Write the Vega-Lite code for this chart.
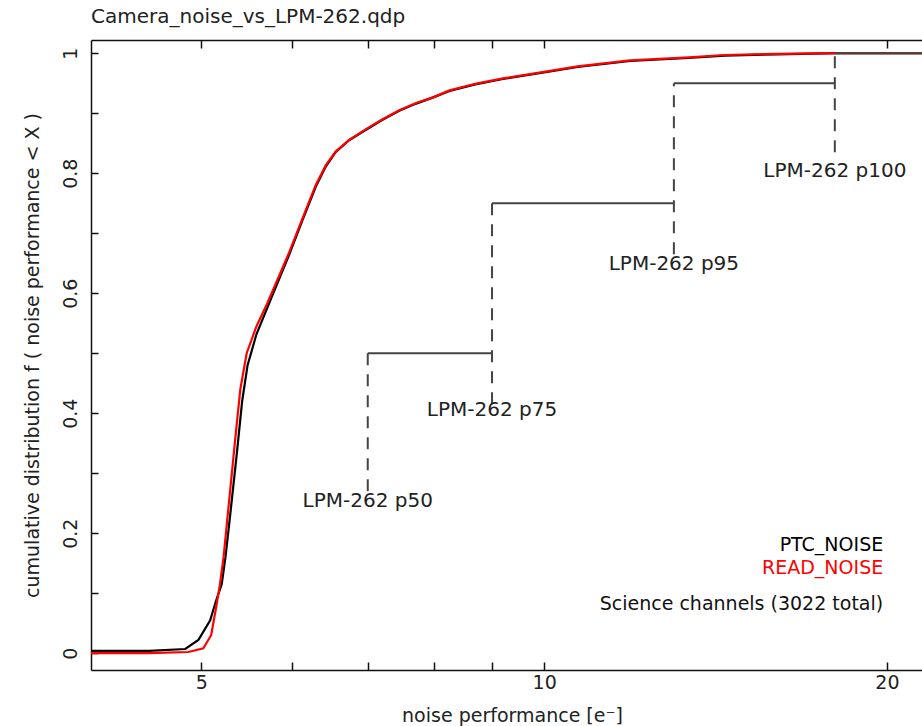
{
  "$schema": "https://vega.github.io/schema/vega-lite/v6.json",
  "width": 831,
  "height": 630,
  "autosize": {"type": "none"},
  "padding": {"left": 91, "top": 40, "right": 0, "bottom": 56},
  "background": "white",
  "config": {
    "view": {"stroke": null},
    "font": "DejaVu Sans",
    "axis": {"grid": false, "domainColor": "#111", "domainWidth": 1.5, "tickColor": "#111", "tickWidth": 1.5, "labelColor": "#222", "titleColor": "#222", "labelFont": "DejaVu Sans", "titleFont": "DejaVu Sans", "titleFontWeight": "normal"}
  },
  "title": {
    "text": "Camera_noise_vs_LPM-262.qdp",
    "anchor": "start",
    "frame": "group",
    "offset": 12,
    "fontSize": 20,
    "fontWeight": "normal",
    "font": "DejaVu Sans",
    "color": "#222"
  },
  "datasets": {
    "curves": [
      {"x": 4.0, "y": 0.004, "series": "PTC_NOISE"},
      {"x": 4.5, "y": 0.004, "series": "PTC_NOISE"},
      {"x": 4.84, "y": 0.007, "series": "PTC_NOISE"},
      {"x": 4.97, "y": 0.022, "series": "PTC_NOISE"},
      {"x": 5.09, "y": 0.055, "series": "PTC_NOISE"},
      {"x": 5.15, "y": 0.087, "series": "PTC_NOISE"},
      {"x": 5.21, "y": 0.115, "series": "PTC_NOISE"},
      {"x": 5.25, "y": 0.16, "series": "PTC_NOISE"},
      {"x": 5.3, "y": 0.23, "series": "PTC_NOISE"},
      {"x": 5.37, "y": 0.33, "series": "PTC_NOISE"},
      {"x": 5.43, "y": 0.42, "series": "PTC_NOISE"},
      {"x": 5.49, "y": 0.48, "series": "PTC_NOISE"},
      {"x": 5.59, "y": 0.532, "series": "PTC_NOISE"},
      {"x": 5.72, "y": 0.578, "series": "PTC_NOISE"},
      {"x": 5.96, "y": 0.66, "series": "PTC_NOISE"},
      {"x": 6.13, "y": 0.72, "series": "PTC_NOISE"},
      {"x": 6.3, "y": 0.777, "series": "PTC_NOISE"},
      {"x": 6.43, "y": 0.811, "series": "PTC_NOISE"},
      {"x": 6.56, "y": 0.835, "series": "PTC_NOISE"},
      {"x": 6.74, "y": 0.855, "series": "PTC_NOISE"},
      {"x": 6.97, "y": 0.872, "series": "PTC_NOISE"},
      {"x": 7.2, "y": 0.888, "series": "PTC_NOISE"},
      {"x": 7.46, "y": 0.904, "series": "PTC_NOISE"},
      {"x": 7.72, "y": 0.916, "series": "PTC_NOISE"},
      {"x": 7.98, "y": 0.926, "series": "PTC_NOISE"},
      {"x": 8.26, "y": 0.937, "series": "PTC_NOISE"},
      {"x": 8.7, "y": 0.948, "series": "PTC_NOISE"},
      {"x": 9.2, "y": 0.957, "series": "PTC_NOISE"},
      {"x": 10.0, "y": 0.968, "series": "PTC_NOISE"},
      {"x": 10.7, "y": 0.977, "series": "PTC_NOISE"},
      {"x": 11.9, "y": 0.987, "series": "PTC_NOISE"},
      {"x": 13.4, "y": 0.992, "series": "PTC_NOISE"},
      {"x": 14.4, "y": 0.996, "series": "PTC_NOISE"},
      {"x": 16.0, "y": 0.998, "series": "PTC_NOISE"},
      {"x": 18.1, "y": 1.0, "series": "PTC_NOISE"},
      {"x": 21.47, "y": 1.0, "series": "PTC_NOISE"},
      {"x": 4.0, "y": 0.0, "series": "READ_NOISE"},
      {"x": 4.5, "y": 0.0, "series": "READ_NOISE"},
      {"x": 4.87, "y": 0.002, "series": "READ_NOISE"},
      {"x": 5.02, "y": 0.008, "series": "READ_NOISE"},
      {"x": 5.1, "y": 0.03, "series": "READ_NOISE"},
      {"x": 5.15, "y": 0.075, "series": "READ_NOISE"},
      {"x": 5.19, "y": 0.113, "series": "READ_NOISE"},
      {"x": 5.23, "y": 0.16, "series": "READ_NOISE"},
      {"x": 5.28, "y": 0.24, "series": "READ_NOISE"},
      {"x": 5.35, "y": 0.35, "series": "READ_NOISE"},
      {"x": 5.41, "y": 0.44, "series": "READ_NOISE"},
      {"x": 5.48, "y": 0.5, "series": "READ_NOISE"},
      {"x": 5.59, "y": 0.545, "series": "READ_NOISE"},
      {"x": 5.71, "y": 0.582, "series": "READ_NOISE"},
      {"x": 5.96, "y": 0.664, "series": "READ_NOISE"},
      {"x": 6.13, "y": 0.723, "series": "READ_NOISE"},
      {"x": 6.3, "y": 0.78, "series": "READ_NOISE"},
      {"x": 6.43, "y": 0.813, "series": "READ_NOISE"},
      {"x": 6.56, "y": 0.836, "series": "READ_NOISE"},
      {"x": 6.74, "y": 0.855, "series": "READ_NOISE"},
      {"x": 6.97, "y": 0.873, "series": "READ_NOISE"},
      {"x": 7.2, "y": 0.889, "series": "READ_NOISE"},
      {"x": 7.46, "y": 0.905, "series": "READ_NOISE"},
      {"x": 7.72, "y": 0.917, "series": "READ_NOISE"},
      {"x": 7.98, "y": 0.926, "series": "READ_NOISE"},
      {"x": 8.26, "y": 0.938, "series": "READ_NOISE"},
      {"x": 8.7, "y": 0.949, "series": "READ_NOISE"},
      {"x": 9.2, "y": 0.958, "series": "READ_NOISE"},
      {"x": 10.0, "y": 0.969, "series": "READ_NOISE"},
      {"x": 10.7, "y": 0.978, "series": "READ_NOISE"},
      {"x": 11.9, "y": 0.988, "series": "READ_NOISE"},
      {"x": 13.4, "y": 0.993, "series": "READ_NOISE"},
      {"x": 14.4, "y": 0.997, "series": "READ_NOISE"},
      {"x": 16.0, "y": 0.999, "series": "READ_NOISE"},
      {"x": 18.1, "y": 1.0, "series": "READ_NOISE"},
      {"x": 21.47, "y": 1.0, "series": "READ_NOISE"}
    ],
    "hsteps": [
      {"x": 7.0, "x2": 9.0, "y": 0.5},
      {"x": 9.0, "x2": 13.0, "y": 0.75},
      {"x": 13.0, "x2": 18.0, "y": 0.95},
      {"x": 18.0, "x2": 21.47, "y": 1.0}
    ],
    "vsteps": [
      {"x": 7.0, "y": 0.27, "y2": 0.5},
      {"x": 9.0, "y": 0.415, "y2": 0.75},
      {"x": 13.0, "y": 0.665, "y2": 0.95},
      {"x": 18.0, "y": 0.835, "y2": 1.0}
    ],
    "steplabels": [
      {"x": 7.0, "y": 0.253, "text": "LPM-262 p50"},
      {"x": 9.0, "y": 0.405, "text": "LPM-262 p75"},
      {"x": 13.0, "y": 0.648, "text": "LPM-262 p95"},
      {"x": 18.0, "y": 0.803, "text": "LPM-262 p100"}
    ],
    "notes": [
      {"x": 19.85, "y": 0.18, "text": "PTC_NOISE", "series": "PTC_NOISE"},
      {"x": 19.85, "y": 0.142, "text": "READ_NOISE", "series": "READ_NOISE"},
      {"x": 19.85, "y": 0.082, "text": "Science channels (3022 total)", "series": "note"}
    ]
  },
  "resolve": {"axis": {"x": "independent"}},
  "layer": [
    {
      "data": {"name": "curves"},
      "mark": {"type": "line", "strokeWidth": 2.2, "clip": true},
      "encoding": {
        "x": {
          "field": "x", "type": "quantitative",
          "scale": {"type": "log", "domain": [4, 21.47], "nice": false},
          "axis": {
            "orient": "bottom",
            "title": "noise performance [e⁻]",
            "values": [5, 6, 7, 8, 9, 10, 20],
            "labelExpr": "datum.value == 5 || datum.value == 10 || datum.value == 20 ? format(datum.value, 'd') : ''",
            "tickSize": -8,
            "labelPadding": 11,
            "labelFontSize": 19,
            "titleFontSize": 19,
            "titlePadding": 14,
            "titleX": 421,
            "labelFlush": false
          }
        },
        "y": {
          "field": "y", "type": "quantitative",
          "scale": {"domain": [-0.028, 1.022], "nice": false, "zero": false},
          "axis": {
            "title": "cumulative distribution f ( noise performance < X )",
            "values": [0, 0.1, 0.2, 0.3, 0.4, 0.5, 0.6, 0.7, 0.8, 0.9, 1],
            "labelExpr": "round(datum.value * 10) % 2 == 0 ? format(datum.value, '~g') : ''",
            "tickSize": -7,
            "labelAngle": -90,
            "labelAlign": "center",
            "labelBaseline": "bottom",
            "labelPadding": 18,
            "labelFontSize": 19,
            "titleFontSize": 19,
            "titlePadding": 19,
            "labelFlush": false
          }
        },
        "color": {
          "field": "series", "type": "nominal",
          "scale": {"domain": ["PTC_NOISE", "READ_NOISE", "note"], "range": ["#000000", "#ff0000", "#111111"]},
          "legend": null
        }
      }
    },
    {
      "data": {"name": "hsteps"},
      "mark": {"type": "rule", "color": "#444444", "strokeWidth": 2, "clip": true},
      "encoding": {
        "x": {
          "field": "x", "type": "quantitative",
          "axis": {
            "orient": "top",
            "title": null,
            "values": [5, 6, 7, 8, 9, 10, 20],
            "labels": false,
            "tickSize": -8
          }
        },
        "x2": {"field": "x2"},
        "y": {"field": "y", "type": "quantitative", "title": "cumulative distribution f ( noise performance < X )"}
      }
    },
    {
      "data": {"name": "vsteps"},
      "mark": {"type": "rule", "color": "#444444", "strokeWidth": 2, "strokeDash": [12, 9]},
      "encoding": {
        "x": {"field": "x", "type": "quantitative", "axis": null},
        "y": {"field": "y", "type": "quantitative", "title": "cumulative distribution f ( noise performance < X )"},
        "y2": {"field": "y2"}
      }
    },
    {
      "data": {"name": "steplabels"},
      "mark": {"type": "text", "align": "center", "baseline": "middle", "fontSize": 20, "color": "#222222", "font": "DejaVu Sans"},
      "encoding": {
        "x": {"field": "x", "type": "quantitative", "axis": null},
        "y": {"field": "y", "type": "quantitative", "title": "cumulative distribution f ( noise performance < X )"},
        "text": {"field": "text"}
      }
    },
    {
      "data": {"name": "notes"},
      "mark": {"type": "text", "align": "right", "baseline": "middle", "fontSize": 19, "font": "DejaVu Sans"},
      "encoding": {
        "x": {"field": "x", "type": "quantitative", "axis": null},
        "y": {"field": "y", "type": "quantitative", "title": "cumulative distribution f ( noise performance < X )"},
        "text": {"field": "text"},
        "color": {"field": "series", "type": "nominal", "legend": null}
      }
    }
  ]
}
